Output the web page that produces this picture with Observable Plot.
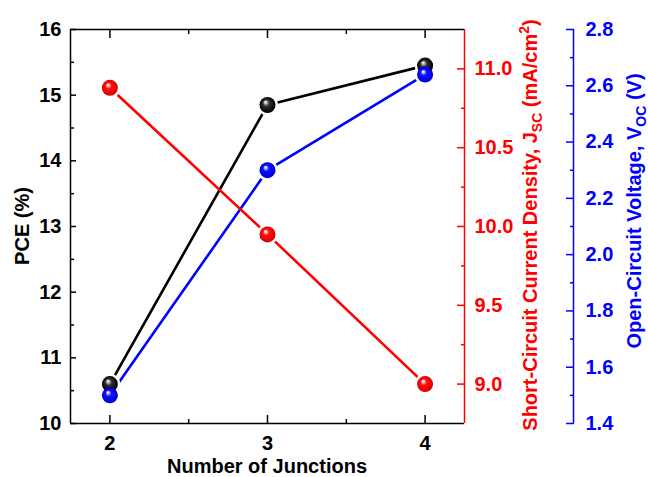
<!DOCTYPE html>
<html>
<head>
<meta charset="utf-8">
<script src="https://cdn.jsdelivr.net/npm/d3@7"></script>
<script src="https://cdn.jsdelivr.net/npm/@observablehq/plot@0.6"></script>
<style>
  body { margin: 0; background: #fff; }
</style>
</head>
<body>
<div id="chart"></div>
<script>
// Device performance versus number of junctions
const junctions = [2, 3, 4];
const pce = [10.6, 14.85, 15.45];      // %
const jsc = [10.88, 9.95, 9.0];        // mA/cm2
const voc = [1.50, 2.30, 2.64];        // V

const xTicks = [2, 3, 4];
const xMinor = [2.5, 3.5];
const pceTicks = [10, 11, 12, 13, 14, 15, 16];
const pceMinor = [10.5, 11.5, 12.5, 13.5, 14.5, 15.5];
const jscTicks = [9.0, 9.5, 10.0, 10.5, 11.0];
const jscMinor = [9.25, 9.75, 10.25, 10.75];
const vocTicks = [1.4, 1.6, 1.8, 2.0, 2.2, 2.4, 2.6, 2.8];
const vocMinor = [1.5, 1.7, 1.9, 2.1, 2.3, 2.5, 2.7];

const RED = "#ff0000", BLUE = "#0000ff", BLACK = "#000000";

// The secondary axes share the PCE y scale through linear maps
const pceDomain = [10, 16];
const jscY = d3.scaleLinear().domain([8.75, 11.25]).range(pceDomain);
const vocY = d3.scaleLinear().domain([1.4, 2.8]).range(pceDomain);

const pceData = junctions.map((j, i) => ({j, y: pce[i]}));
const jscData = junctions.map((j, i) => ({j, y: jscY(jsc[i])}));
const vocData = junctions.map((j, i) => ({j, y: vocY(voc[i])}));
const allData = [...pceData, ...jscData, ...vocData];

const blueOffset = 109;
const tickFont = {fontSize: 20, fontWeight: "bold", label: null};
const intFormat = d => String(Math.round(d));

const chart = Plot.plot({
  width: 648,
  height: 477,
  marginLeft: 70,
  marginRight: 184,
  marginTop: 29,
  marginBottom: 54,
  style: {fontFamily: "'Liberation Sans', Arial, sans-serif", background: "white", overflow: "visible"},
  x: {domain: [1.75, 4.25], axis: null},
  y: {domain: pceDomain, axis: null},
  marks: [
    // series lines
    Plot.line(pceData, {x: "j", y: "y", stroke: BLACK, strokeWidth: 2.6}),
    Plot.line(vocData, {x: "j", y: "y", stroke: BLUE, strokeWidth: 2.6}),
    Plot.line(jscData, {x: "j", y: "y", stroke: RED, strokeWidth: 2.6}),
    // white gaps where the lines meet the symbols
    Plot.dot(allData, {x: "j", y: "y", r: 10.5, fill: "white"}),
    // shaded ball symbols
    Plot.dot(pceData, {x: "j", y: "y", r: 8, fill: "url(#ballBlack)"}),
    Plot.dot(jscData, {x: "j", y: "y", r: 8, fill: "url(#ballRed)"}),
    Plot.dot(vocData, {x: "j", y: "y", r: 8, fill: "url(#ballBlue)"}),

    // axis lines
    Plot.ruleY([16], {stroke: BLACK, strokeWidth: 1.5}),
    Plot.ruleY([10], {stroke: BLACK, strokeWidth: 1.5}),
    Plot.ruleX([1.75], {stroke: BLACK, strokeWidth: 1.5}),
    Plot.ruleX([4.25], {stroke: RED, strokeWidth: 1.5}),
    Plot.ruleX([4.25], {stroke: BLUE, strokeWidth: 1.5, dx: blueOffset}),

    // x axis (bottom and mirrored top)
    Plot.axisX(xTicks, {anchor: "bottom", tickSize: -8, fill: "none", stroke: BLACK, strokeWidth: 1.5, label: null}),
    Plot.axisX(xMinor, {anchor: "bottom", tickSize: -4, fill: "none", stroke: BLACK, strokeWidth: 1.5, label: null}),
    Plot.axisX(xTicks, {anchor: "top", tickSize: -8, fill: "none", stroke: BLACK, strokeWidth: 1.5, label: null}),
    Plot.axisX(xMinor, {anchor: "top", tickSize: -4, fill: "none", stroke: BLACK, strokeWidth: 1.5, label: null}),
    Plot.axisX(xTicks, {anchor: "bottom", tickSize: 0, tickPadding: 12, fill: BLACK, tickFormat: intFormat, ...tickFont}),

    // PCE axis (left)
    Plot.axisY(pceTicks, {anchor: "left", tickSize: -6, fill: "none", stroke: BLACK, strokeWidth: 1.5, label: null}),
    Plot.axisY(pceMinor, {anchor: "left", tickSize: -4, fill: "none", stroke: BLACK, strokeWidth: 1.5, label: null}),
    Plot.axisY(pceTicks, {anchor: "left", tickSize: 0, tickPadding: 9, fill: BLACK, tickFormat: intFormat, ...tickFont}),

    // Jsc axis (right, red)
    Plot.axisY(jscTicks.map(jscY), {anchor: "right", tickSize: -8, fill: "none", stroke: RED, strokeWidth: 1.5, label: null}),
    Plot.axisY(jscMinor.map(jscY), {anchor: "right", tickSize: -4, fill: "none", stroke: RED, strokeWidth: 1.5, label: null}),
    Plot.axisY(jscTicks.map(jscY), {anchor: "right", tickSize: 0, tickPadding: 10, fill: RED,
      tickFormat: d => jscY.invert(d).toFixed(1), ...tickFont}),

    // Voc axis (offset right, blue)
    Plot.axisY(vocTicks.map(vocY), {anchor: "right", dx: blueOffset, tickSize: -8, fill: "none", stroke: BLUE, strokeWidth: 1.5, label: null}),
    Plot.axisY(vocMinor.map(vocY), {anchor: "right", dx: blueOffset, tickSize: -4, fill: "none", stroke: BLUE, strokeWidth: 1.5, label: null}),
    Plot.axisY(vocTicks.map(vocY), {anchor: "right", dx: blueOffset, tickSize: 0, tickPadding: 12, fill: BLUE,
      tickFormat: d => vocY.invert(d).toFixed(1), ...tickFont})
  ]
});

const svg = d3.select(chart);

// radial gradients for the ball symbols
const defs = svg.insert("defs", ":first-child");
function ball(id, stops) {
  const g = defs.append("radialGradient").attr("id", id)
    .attr("cx", "0.5").attr("cy", "0.5").attr("r", "0.5")
    .attr("fx", "0.36").attr("fy", "0.3");
  stops.forEach(([o, c]) => g.append("stop").attr("offset", o).attr("stop-color", c));
}
ball("ballRed", [["0%", "#ffffff"], ["14%", "#ffd0d0"], ["38%", "#ff1010"], ["85%", "#f00000"], ["100%", "#c80000"]]);
ball("ballBlue", [["0%", "#ffffff"], ["14%", "#c8c8ff"], ["38%", "#1010ff"], ["85%", "#0000f0"], ["100%", "#0000b8"]]);
ball("ballBlack", [["0%", "#ffffff"], ["14%", "#cccccc"], ["40%", "#333333"], ["85%", "#0a0a0a"], ["100%", "#000000"]]);

// axis titles
const titleFont = "'Liberation Sans', Arial, sans-serif";
function title(x, y, rotate, color) {
  return svg.append("text")
    .attr("transform", `translate(${x},${y})` + (rotate ? " rotate(-90)" : ""))
    .attr("text-anchor", "middle")
    .attr("dy", "0.35em")
    .attr("fill", color)
    .style("font-family", titleFont)
    .style("font-size", "20px")
    .style("font-weight", "bold");
}

title(267, 466, false, BLACK).text("Number of Junctions");
title(22, 226, true, BLACK).text("PCE (%)");

const jt = title(530, 225, true, RED);
jt.append("tspan").text("Short-Circuit Current Density, J");
jt.append("tspan").attr("dy", 5).style("font-size", "14px").text("SC");
jt.append("tspan").attr("dy", -5).text(" (mA/cm");
jt.append("tspan").attr("dy", -8).style("font-size", "14px").text("2");
jt.append("tspan").attr("dy", 8).text(")");

const vt = title(634, 211, true, BLUE);
vt.append("tspan").text("Open-Circuit Voltage, V");
vt.append("tspan").attr("dy", 5).style("font-size", "14px").text("OC");
vt.append("tspan").attr("dy", -5).text(" (V)");

document.getElementById("chart").appendChild(chart);
</script>
</body>
</html>
